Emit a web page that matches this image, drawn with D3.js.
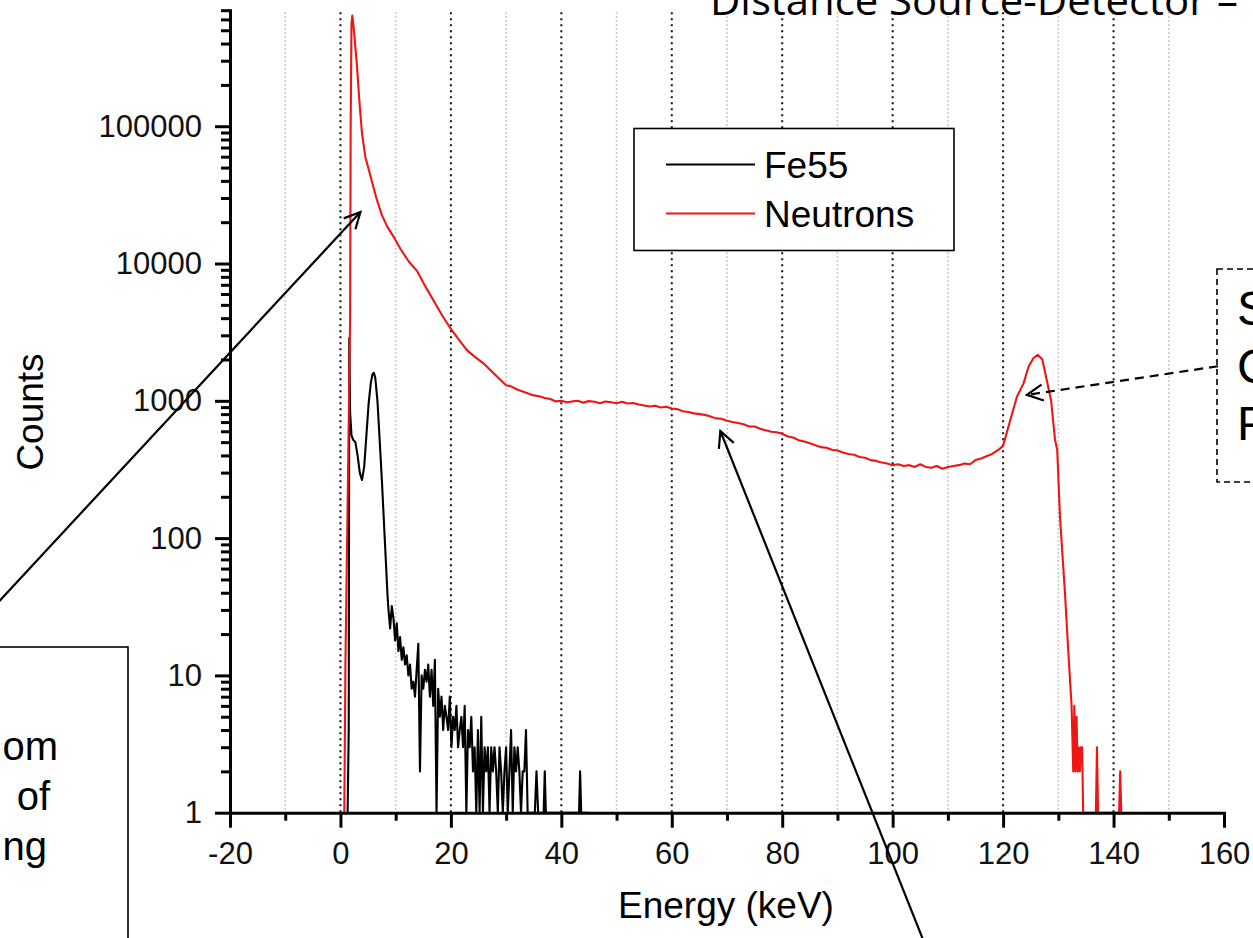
<!DOCTYPE html>
<html>
<head>
<meta charset="utf-8">
<script src="https://cdn.jsdelivr.net/npm/d3@7"></script>
<style>
  body { margin: 0; background: #fff; }
  svg { display: block; }
</style>
</head>
<body>
<svg id="chart" width="1253" height="938"></svg>
<script>
// tick values / labels
let xMajorTicks = [-20, 0, 20, 40, 60, 80, 100, 120, 140, 160];
let xMinorTicks = [-10, 10, 30, 50, 70, 90, 110, 130, 150];
let yMajorTicks = [1, 10, 100, 1000, 10000, 100000];
let seriesNames = ["Fe55", "Neutrons"];
let seriesColors = ["#000000", "#ee1515"];

// Fe55 spectrum [energy keV, counts]
let fe55 = [
  [1.3,1],[1.5,4],[1.6,2860],[1.75,820],[2.0,560],[2.3,520],[2.7,500],[3.1,400],[3.5,300],[3.9,265],
  [4.3,330],[4.7,560],[5.1,950],[5.5,1350],[5.8,1560],[6.05,1600],[6.3,1480],[6.7,1000],[7.1,520],[7.5,265],
  [8.1,86],[8.5,40],[8.7,30],[9.0,22],[9.3,32],[9.6,26],[9.9,18],[10.2,24],[10.5,15],[10.8,19],
  [11.1,13],[11.4,16],[11.7,12],[12.0,14],[12.3,10],[12.6,12],[12.9,8],[13.2,9],[13.5,7],[13.8,11],
  [14.1,17],[14.4,2],[14.7,10],[15.0,8],[15.3,11],[15.6,9],[15.9,12],[16.2,7],[16.5,11],[16.8,6],
  [17.1,13],[17.4,1],[17.7,8],[18.0,5],[18.3,7],[18.6,4],[18.9,6],[19.2,5],[19.5,4],[19.8,7],
  [20.1,3],[20.4,5],[20.7,4],[21.0,6],[21.3,3],[21.6,4],[21.9,5],[22.2,3],[22.5,6],[22.8,1],
  [23.1,4],[23.4,3],[23.7,5],[24.0,2],[24.3,3],[24.6,1],[24.9,4],[25.2,1],[25.5,5],[25.8,1],
  [26.1,3],[26.4,2],[26.7,3],[27.0,1],[27.3,3],[27.6,2],[27.9,3],[28.2,2],[28.5,1],[28.8,3],
  [29.1,2],[29.4,1],[29.7,2],[30.0,3],[30.3,1],[30.6,2],[30.9,4],[31.2,1],[31.5,3],[31.8,2],
  [32.1,3],[32.4,2],[32.7,1],[33.0,2],[33.3,2],[33.6,4],[33.9,1],[34.5,1],[35.2,1],[35.5,2],
  [35.8,1],[36.8,1],[37.0,2],[37.2,1],[43.2,1],[43.4,2],[43.6,1],[45.0,1]
];

// Neutron spectrum [energy keV, counts]
let neutrons = [
  [0.5,1],[0.7,1],[0.9,12],[1.2,90],[1.5,700],[1.75,4000],[1.85,100000],[2.0,560000],[2.15,640000],[2.4,520000],
  [2.7,380000],[3.0,271000],[3.5,140000],[3.9,89000],[4.5,60000],[5.4,44000],[6.5,30000],[7.5,22500],[8.5,18500],[9.7,15500],
  [10.9,12700],[12.4,10300],[13.9,8800],[15.3,6900],[16.8,5420],[18.4,4200],[19.9,3380],[21.4,2800],[22.9,2340],[24.4,2080],
  [25.9,1875],[27.5,1620],[29,1420],[30,1300],[31,1270],[32,1210],[33,1170],[34,1130],[35,1095],[36,1080],
  [37,1050],[38,1030],[39,990],[40,1000],[41,975],[42,990],[43,1000],[44,970],[45,995],[46,985],
  [47,960],[48,990],[49,975],[50,960],[51,985],[52,955],[53,965],[54,940],[55,925],[56,910],
  [57,920],[58,895],[59,905],[60,880],[61,870],[62,840],[63,830],[64,810],[65,800],[66,790],
  [67,770],[68,745],[69,740],[70,715],[71,700],[72,690],[73,675],[74,650],[75,650],[76,625],
  [77,610],[78,595],[79,590],[80,575],[81,550],[82,540],[83,515],[84,505],[85,490],[86,475],
  [87,460],[88,455],[89,440],[90,435],[91,420],[92,410],[93,405],[94,390],[95,385],[96,370],
  [97,365],[98,355],[99,350],[100,340],[101,345],[102,335],[103,340],[104,330],[105,345],[106,330],
  [107,325],[108,335],[109,320],[110,330],[111,335],[112,340],[113,350],[114,345],[115,370],[116,380],
  [117,395],[118,410],[119,435],[120,470],[121.3,725],[122.5,1070],[123.7,1340],[124.6,1770],[125.5,2050],[126.3,2160],
  [127.1,2000],[127.9,1420],[128.7,1000],[129.4,520],[129.8,438],[130.3,143],[130.8,70],[131.2,40],[131.8,15],[132.4,6],
  [132.7,2],[132.9,6],[133.1,2],[133.3,5],[133.5,2],[133.7,3],[133.9,2],[134.1,3],[134.3,3],[134.5,1],
  [136.8,1],[137.0,3],[137.2,1],[141.0,1],[141.2,2],[141.4,1]
];

// annotation arrows, in data units [keV, counts]
let arrowNotes = [
  { from: [-69.5, 16.1], to: [3.62, 23700] },
  { from: [106.1, 0.1035], to: [68.8, 603] }
];
let dashedNote = { from: [158.9, 1786], to: [124.3, 1104] };

let svg = d3.select("#chart");
let axisFont = "Liberation Sans, Arial, sans-serif";

//scales
let x = d3.scaleLinear().domain([-20, 160]).range([230, 1224]);
let y = d3.scaleLog().domain([1, 700000]).range([812.7, 10.2]);

svg.append("rect").attr("width", 1253).attr("height", 938).attr("fill", "#fff");

//arrow head
let defs = svg.append("defs");
defs.append("marker")
    .attr("id", "openArrow")
    .attr("viewBox", "0 0 20 20")
    .attr("refX", 18).attr("refY", 10)
    .attr("markerWidth", 20).attr("markerHeight", 20)
    .attr("markerUnits", "userSpaceOnUse")
    .attr("orient", "auto")
  .append("path")
    .attr("d", "M2,2 L18,10 L2,18")
    .attr("fill", "none")
    .attr("stroke", "#000")
    .attr("stroke-width", 2.2);

defs.append("clipPath").attr("id", "plotClip")
  .append("rect").attr("x", 230).attr("y", 0).attr("width", 994).attr("height", 813);

//vertical grid lines
let grid = svg.append("g");
grid.selectAll(".gminor")
    .data(xMinorTicks)
    .enter()
    .append("line")
      .attr("x1", d => x(d)).attr("x2", d => x(d))
      .attr("y1", y(700000) + 2).attr("y2", y(1))
      .attr("stroke", "#b5b5b5")
      .attr("stroke-width", 1.5)
      .attr("stroke-dasharray", "1.5,2.5");
grid.selectAll(".gmajor")
    .data(xMajorTicks.filter(d => d > -20 && d < 160))
    .enter()
    .append("line")
      .attr("x1", d => x(d)).attr("x2", d => x(d))
      .attr("y1", y(700000) + 2).attr("y2", y(1))
      .attr("stroke", "#111")
      .attr("stroke-width", 2)
      .attr("stroke-dasharray", "2,4");

//legend box (white, hides grid)
let leg = svg.append("g");
leg.append("rect")
    .attr("x", 634).attr("y", 128.5)
    .attr("width", 320).attr("height", 122)
    .attr("fill", "#fff").attr("stroke", "#000").attr("stroke-width", 1.6);
seriesNames.forEach(function(name, i) {
  let ly = 164.5 + i * 49;
  leg.append("line")
      .attr("x1", 666).attr("x2", 755)
      .attr("y1", ly).attr("y2", ly)
      .attr("stroke", seriesColors[i]).attr("stroke-width", 1.8);
  leg.append("text")
      .attr("x", 764).attr("y", ly + 13.3)
      .attr("font-family", axisFont)
      .attr("font-size", "37px")
      .attr("fill", "#000")
      .text(name);
});

//spectra
let line = d3.line()
    .x(d => x(d[0]))
    .y(d => y(d[1]));
let plot = svg.append("g").attr("clip-path", "url(#plotClip)");
[fe55, neutrons].forEach(function(series, i) {
  plot.append("path")
      .datum(series)
      .attr("d", line)
      .attr("fill", "none")
      .attr("stroke", seriesColors[i])
      .attr("stroke-width", 2.1)
      .attr("stroke-linejoin", "round");
});

//axes
function styleAxis(g, withText) {
  g.selectAll("path, line").attr("stroke", "#000").attr("stroke-width", 3);
  g.select(".domain").attr("stroke-linecap", "square");
  if (withText) {
    g.selectAll("text")
      .attr("font-family", axisFont)
      .attr("font-size", "31px")
      .attr("fill", "#111");
  }
}

let xAxisMinor = svg.append("g")
    .attr("transform", "translate(0," + y(1) + ")")
    .call(d3.axisBottom(x).tickValues(xMinorTicks).tickSize(8).tickSizeOuter(0).tickFormat(""));
xAxisMinor.select(".domain").remove();
styleAxis(xAxisMinor, false);

let xAxis = svg.append("g")
    .attr("transform", "translate(0," + y(1) + ")")
    .call(d3.axisBottom(x).tickValues(xMajorTicks).tickSize(15).tickSizeOuter(0).tickPadding(14)
          .tickFormat(d => String(d)));
styleAxis(xAxis, true);

let yMinorTicks = [];
yMajorTicks.forEach(function(dec) {
  for (let k = 2; k <= 9; k++) {
    if (dec * k <= 700000) yMinorTicks.push(dec * k);
  }
});

let yAxisMinor = svg.append("g")
    .attr("transform", "translate(" + x(-20) + ",0)")
    .call(d3.axisLeft(y).tickValues(yMinorTicks).tickSize(9).tickSizeOuter(0).tickFormat(""));
yAxisMinor.select(".domain").remove();
styleAxis(yAxisMinor, false);

let yAxis = svg.append("g")
    .attr("transform", "translate(" + x(-20) + ",0)")
    .call(d3.axisLeft(y).tickValues(yMajorTicks).tickSize(15).tickSizeOuter(0).tickPadding(13)
          .tickFormat(d => String(d)));
styleAxis(yAxis, true);

//axis titles
svg.append("text")
    .attr("x", 726).attr("y", 918)
    .attr("text-anchor", "middle")
    .attr("font-family", axisFont)
    .attr("font-size", "37px")
    .attr("fill", "#000")
    .text("Energy (keV)");

svg.append("text")
    .attr("transform", "translate(43,412) rotate(-90)")
    .attr("text-anchor", "middle")
    .attr("font-family", axisFont)
    .attr("font-size", "37px")
    .attr("fill", "#000")
    .text("Counts");

//annotation arrows
arrowNotes.forEach(function(a) {
  svg.append("line")
      .attr("x1", x(a.from[0])).attr("y1", y(a.from[1]))
      .attr("x2", x(a.to[0])).attr("y2", y(a.to[1]))
      .attr("stroke", "#000").attr("stroke-width", 2.2)
      .attr("marker-end", "url(#openArrow)");
});
svg.append("line")
    .attr("x1", x(dashedNote.from[0])).attr("y1", y(dashedNote.from[1]))
    .attr("x2", x(dashedNote.to[0])).attr("y2", y(dashedNote.to[1]))
    .attr("stroke", "#000").attr("stroke-width", 2.2)
    .attr("stroke-dasharray", "9,6")
    .attr("marker-end", "url(#openArrow)");

//left text box (cut by the page edge, as on the slide)
svg.append("rect")
    .attr("x", -20).attr("y", 647)
    .attr("width", 148).attr("height", 320)
    .attr("fill", "none").attr("stroke", "#000").attr("stroke-width", 1.6);
[["om", 58, 760], ["of", 50, 810], ["ng", 47, 860]].forEach(function(t) {
  svg.append("text")
      .attr("x", t[1]).attr("y", t[2])
      .attr("text-anchor", "end")
      .attr("font-family", axisFont)
      .attr("font-size", "40px")
      .attr("fill", "#000")
      .text(t[0]);
});

//right dashed text box (cut by the page edge, as on the slide)
svg.append("rect")
    .attr("x", 1217).attr("y", 269)
    .attr("width", 80).attr("height", 213)
    .attr("fill", "none").attr("stroke", "#000").attr("stroke-width", 1.6)
    .attr("stroke-dasharray", "6,4");
[["S", 325], ["C", 383], ["P", 440]].forEach(function(t) {
  svg.append("text")
      .attr("x", 1237).attr("y", t[1])
      .attr("font-family", axisFont)
      .attr("font-size", "48px")
      .attr("fill", "#000")
      .text(t[0]);
});

//slide title, cut at the top
svg.append("text")
    .attr("x", 710).attr("y", 15)
    .attr("font-family", "Open Sans, Noto Sans, sans-serif")
    .attr("font-size", "40px")
    .attr("fill", "#000")
    .attr("textLength", 528)
    .attr("lengthAdjust", "spacingAndGlyphs")
    .text("Distance Source-Detector \u2013");
</script>
</body>
</html>
